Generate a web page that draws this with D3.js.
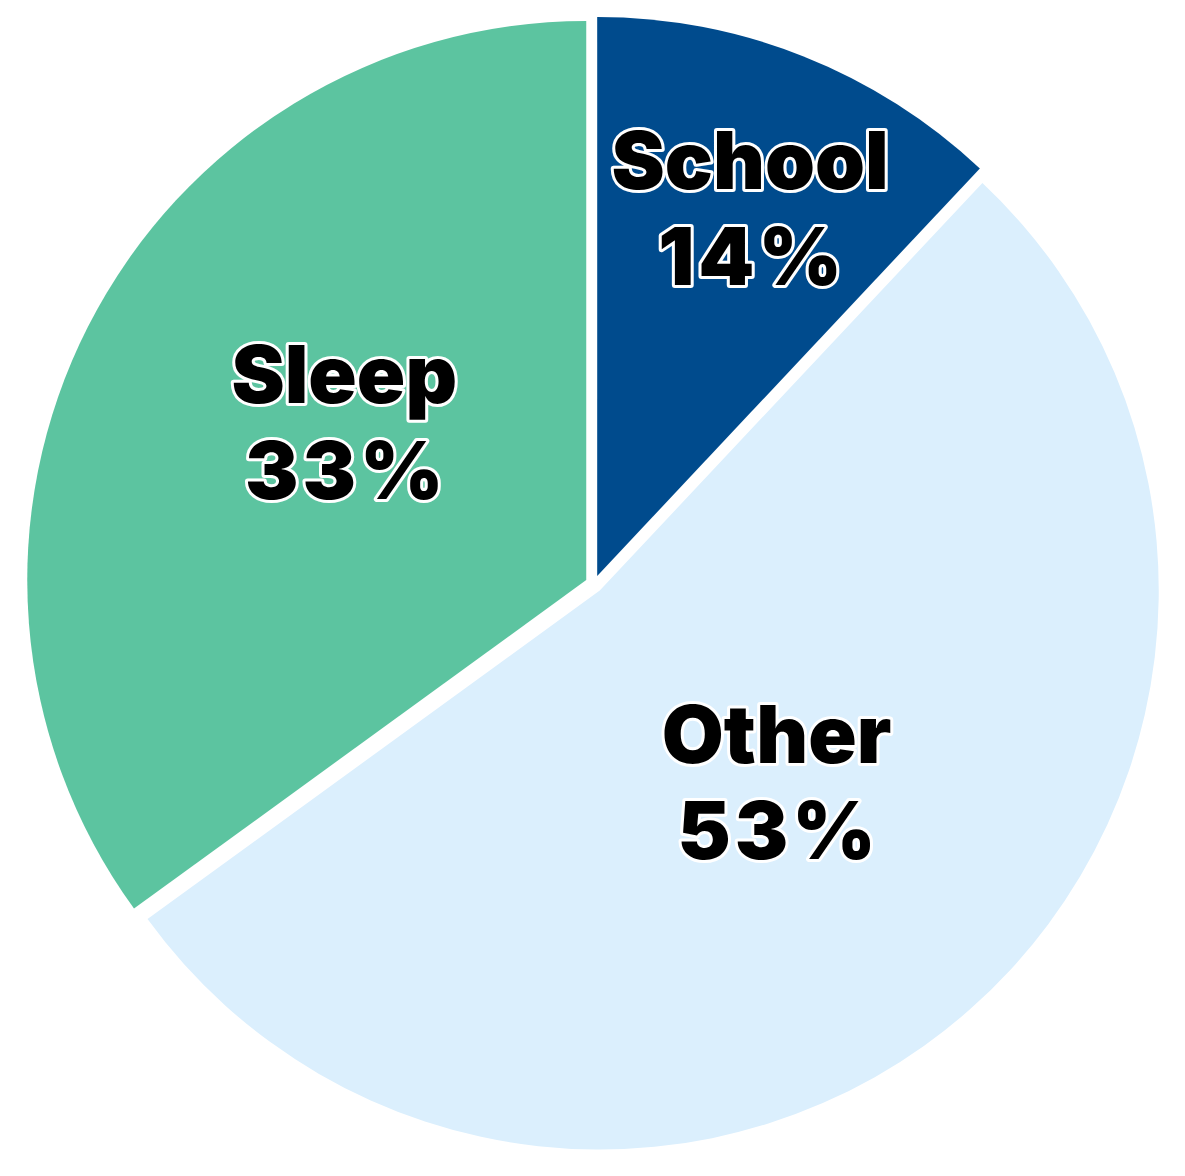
<!DOCTYPE html>
<html>
<head>
<meta charset="utf-8">
<script src="https://cdn.jsdelivr.net/npm/d3@7"></script>
<style>
  html, body { margin: 0; padding: 0; background: #ffffff; }
  svg { display: block; }
</style>
</head>
<body>
<svg id="chart" width="1185" height="1176"></svg>
<script>
// ---- data (shares) ----
const categories = ["School", "Other", "Sleep"];
const shares = [12, 53, 35];
const pctLabels = ["14%", "53%", "33%"];

// ---- styling / layout ----
const colors = ["#004b8d", "#dbeffd", "#5cc4a0"];
const W = 1185, H = 1176;
const cx = 594, cy = 584, radius = 559, explode = 8.7;
const labelOffsets = [[50, -79], [-8, 11], [7, -2]];
const fontSize = 80, lineGap = 96;

const svg = d3.select("#chart");
const pie = d3.pie().sort(null).value(d => d.value);
const arcs = pie(categories.map((c, i) => ({ name: c, value: shares[i], pct: pctLabels[i], color: colors[i] })));
const arc = d3.arc().innerRadius(0).outerRadius(radius);

const g = svg.append("g").attr("transform", `translate(${cx},${cy})`);

function shift(d) {
  const a = (d.startAngle + d.endAngle) / 2;
  return [Math.sin(a) * explode, -Math.cos(a) * explode];
}

g.selectAll("path.slice")
  .data(arcs)
  .join("path")
  .attr("class", "slice")
  .attr("d", arc)
  .attr("fill", d => d.data.color)
  .attr("transform", d => { const s = shift(d); return `translate(${s[0]},${s[1]})`; });

const labels = g.selectAll("g.label")
  .data(arcs)
  .join("g")
  .attr("class", "label")
  .attr("transform", (d, i) => {
    const s = shift(d);
    const c = arc.centroid(d);
    return `translate(${c[0] + s[0] + labelOffsets[i][0]},${c[1] + s[1] + labelOffsets[i][1]})`;
  });

labels.selectAll("text")
  .data(d => [
    { t: d.data.name, y: -lineGap / 2, ls: 0 },
    { t: d.data.pct, y: lineGap / 2, ls: 4 }
  ])
  .join("text")
  .attr("x", d => d.ls / 2)
  .attr("y", d => d.y)
  .attr("text-anchor", "middle")
  .attr("font-family", "Inter, 'Noto Sans', sans-serif")
  .attr("font-weight", 900)
  .attr("font-size", fontSize)
  .attr("letter-spacing", d => d.ls)
  .attr("fill", "#000")
  .attr("stroke", "#fff")
  .attr("stroke-width", 6)
  .attr("stroke-linejoin", "round")
  .attr("paint-order", "stroke")
  .text(d => d.t);
</script>
</body>
</html>
